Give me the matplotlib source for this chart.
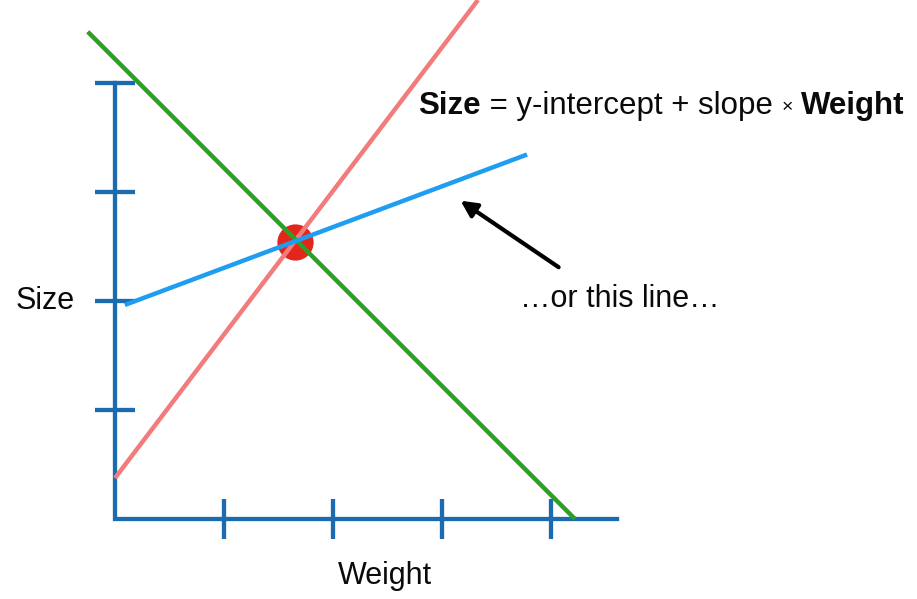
import matplotlib
matplotlib.use('Agg')
import matplotlib.pyplot as plt

plt.rcParams['font.family'] = ['Liberation Sans', 'DejaVu Sans']

# tick positions on each axis (data units)
x_ticks = [1, 2, 3, 4]
y_ticks = [1, 2, 3, 4]
x_axis_end = 4.61
y_axis_end = 4.0

# candidate lines: (intercept, slope, x start, x end)
red_line = (0.376, 1.317, 0.0, 3.33)
green_line = (4.22, -1.0, -0.25, 4.22)
blue_line = (1.93, 0.374, 0.09, 3.78)

# the data point in the middle
point_x = [1.65]
point_y = [2.54]

# arrow: tail, head
arrow_tail = (4.07, 2.31)
arrow_head = (3.17, 2.92)

axis_col = '#1b6bb0'
txt_col = '#0a0a0a'
fs = 22

fig = plt.figure(figsize=(9.17, 5.99), dpi=100)
ax = fig.add_axes([0, 0, 1, 1])
ax.set_xlim(-115 / 109, 802 / 109)
ax.set_ylim(-80 / 109, 519 / 109)
ax.axis('off')

# axes
ax.plot([0, 0, x_axis_end], [y_axis_end, 0, 0], color=axis_col, lw=3.1, solid_joinstyle='miter', zorder=2)
for t in x_ticks:
    ax.plot([t, t], [-0.185, 0.185], color=axis_col, lw=3.1, solid_capstyle='butt', zorder=2)
for t in y_ticks:
    ax.plot([-0.185, 0.185], [t, t], color=axis_col, lw=3.1, solid_capstyle='butt', zorder=2)

for (b, m, x0, x1), col in [(red_line, '#f27b7b'), (green_line, '#2f9e26'), (blue_line, '#1e9df2')]:
    ax.plot([x0, x1], [b + m * x0, b + m * x1], color=col, lw=3.2, solid_capstyle='butt', zorder=4)

ax.scatter(point_x, point_y, s=680, color='#e3261b', zorder=3, linewidths=0)

ax.annotate('', xy=arrow_head, xytext=arrow_tail,
            arrowprops=dict(arrowstyle='-|>', color='black', lw=3, mutation_scale=24,
                            shrinkA=0, shrinkB=0))

ax.text(-0.37, 2.0, 'Size', fontsize=fs, ha='right', va='center', color=txt_col)
ax.text(2.48, -0.52, 'Weight', fontsize=fs, ha='center', va='center', color=txt_col)
ax.text(4.63, 2.02, '…or this line…', fontsize=fs, ha='center', va='center', color=txt_col)

# equation built from pieces: text, weight, size, vertical shift (points)
eq_fs = 22.5
pieces = [('Size', 'bold', eq_fs, 0), (' = y-intercept + slope ', 'normal', eq_fs, 0),
          ('×', 'normal', 14, 3), (' ', 'normal', eq_fs, -3), ('Weight', 'bold', eq_fs, 0)]
prev = ax.text(2.78, 3.72, pieces[0][0], fontweight=pieces[0][1], fontsize=pieces[0][2],
               ha='left', va='baseline', color=txt_col)
for txt, w, size, dy in pieces[1:]:
    prev = ax.annotate(txt, xy=(1, 0), xycoords=prev, xytext=(0, dy), textcoords='offset points',
                       va='bottom', ha='left', fontweight=w, fontsize=size, color=txt_col)

fig.savefig('out.png', dpi=100)
